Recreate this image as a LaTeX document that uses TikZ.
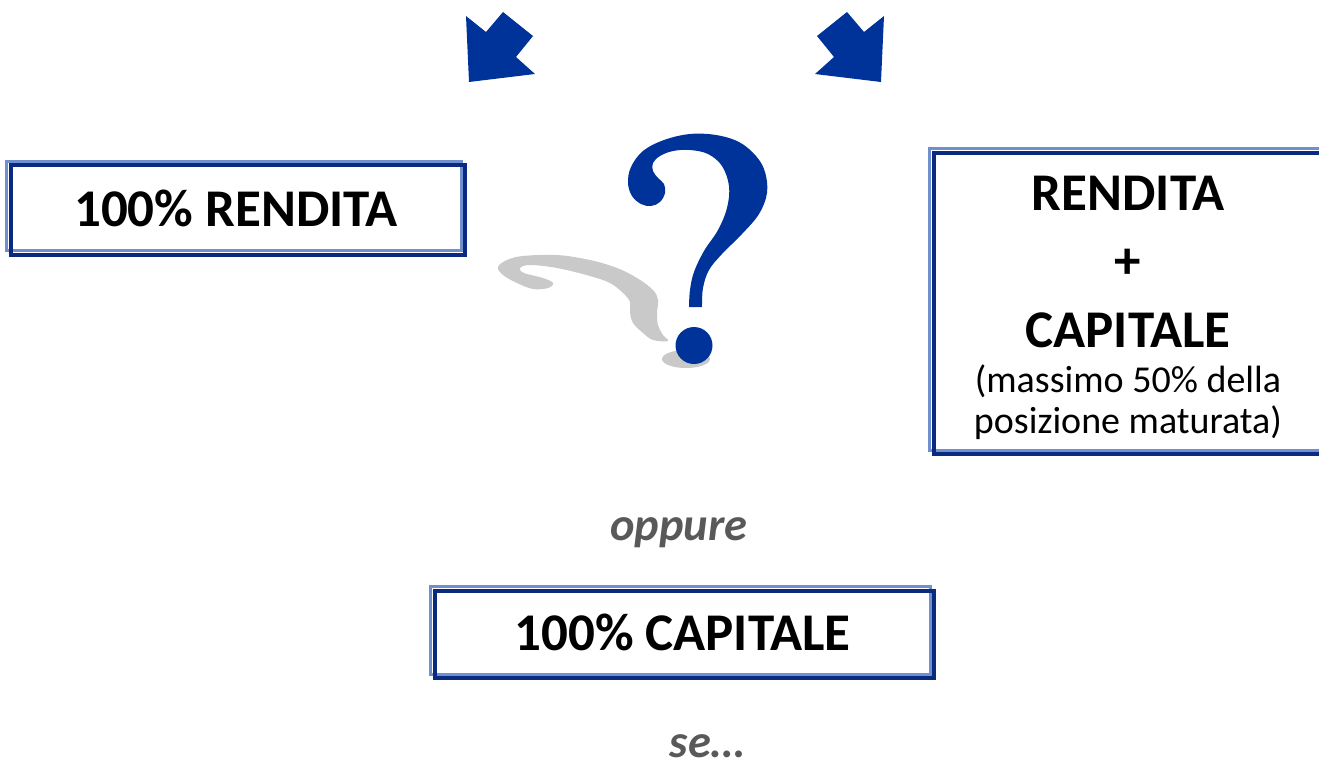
\documentclass[tikz,border=0pt]{standalone}
\usepackage{fontspec}
\setmainfont{Carlito}
\definecolor{qblue}{HTML}{003399}
\definecolor{edgelight}{HTML}{6F8FCF}
\definecolor{edgedark}{HTML}{0A2A82}
\definecolor{ghost}{HTML}{C9C9C9}
\definecolor{remark}{HTML}{595959}
\tikzset{
  panel/.style={inner sep=0pt, font=\bfseries\fontsize{26.5}{30}\selectfont},
  lite/.style={draw=edgelight, line width=1.25pt},
  deep/.style={draw=edgedark, line width=2pt},
  big/.style={font=\bfseries\fontsize{26.5}{30}\selectfont, anchor=base},
  small/.style={font=\fontsize{19}{22}\selectfont, anchor=base},
  note/.style={text=remark, font=\bfseries\itshape\fontsize{23.25}{27}\selectfont, anchor=base},
  pointer/.style={fill=qblue},
}
\begin{document}
\begin{tikzpicture}[x=0.5pt,y=-0.5pt]
  \useasboundingbox (0,0) rectangle (1319,767);

  % arrows at the top
  \fill[pointer] (466,16) -- (486,32) -- (503,12) -- (533,36) -- (516,57) -- (535,74) -- (469,82) -- cycle;
  \fill[pointer] (884,16) -- (864,32) -- (847,12) -- (817,36) -- (834,57) -- (815,74) -- (881,82) -- cycle;

  % question mark with its shadow
  \fill[ghost] plot[smooth cycle, tension=0.6] coordinates {
    (498,267) (507,260) (523,256) (557,255) (590,260) (617,268) (637,278)
    (653,290) (658,300) (657,313) (658,325) (663,335) (668,341)
    (653,340) (643,333) (633,323) (630,312) (630,302) (623,293) (610,283)
    (590,276) (557,268) (530,265) (520,268) (524,273) (543,278) (553,283)
    (548,288) (533,289) (517,283) (503,275)};
  \fill[ghost] (686,359) ellipse [x radius=24, y radius=9];
  \fill[qblue] plot[smooth, tension=0.6] coordinates {
    (702,307) (703,288) (709,270) (722,254) (742,234) (759,214) (767,193)
    (765,172) (756,156) (739,142) (716,135) (690,134) (664,140) (643,151)
    (631,167) (628,183) (632,196) (641,204) (651,206) (660,202) (665,193)
    (664,184) (658,178) (653,171) (653,163) (660,156) (673,151) (690,150)
    (708,154) (722,166) (729,186) (727,208) (718,230) (704,251) (694,272)
    (690,290) (689,307)} -- cycle;
  \fill[qblue] (694,345.5) circle [radius=18.5];

  \node[panel, minimum width=227pt, minimum height=44.25pt] (rend) at (236,208) {100\% RENDITA};
  \node[panel, minimum width=196pt, minimum height=150.5pt] (mix) at (1128,301.5) {};
  \node[big] (mixa) at (1128,210) {RENDITA};
  \node[big] (mixb) at (1128,278.5) {+};
  \node[big] (mixc) at (1128,347) {CAPITALE};
  \node[small] (mixd) at (1128,392) {(massimo 50\% della};
  \node[small] (mixe) at (1128,433) {posizione maturata)};
  \node[note] (alt) at (679,540) {oppure};
  \node[panel, minimum width=249.5pt, minimum height=43.5pt] (cap) at (682.5,632.5) {100\% CAPITALE};
  \node[note] (cond) at (707,757) {se…};

  \foreach \b in {rend,mix,cap}{
    \draw[lite] ([xshift=-1pt,yshift=1pt]\b.north west) rectangle ([xshift=-1pt,yshift=1pt]\b.south east);
    \draw[deep] ([xshift=1pt,yshift=-1pt]\b.north west) rectangle ([xshift=1pt,yshift=-1pt]\b.south east);
  }
\end{tikzpicture}
\end{document}
